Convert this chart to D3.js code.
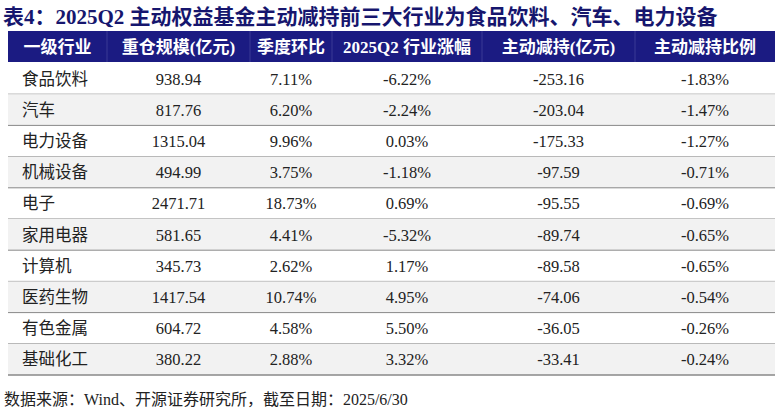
<!DOCTYPE html><html><head><meta charset="utf-8">
<script src="https://cdn.jsdelivr.net/npm/d3@7"></script>
<style>body{margin:0;background:#fff}</style></head><body>
<svg id="c" width="779" height="415"></svg>
<script>
const headers=["一级行业","重仓规模(亿元)","季度环比","2025Q2 行业涨幅","主动减持(亿元)","主动减持比例"];
const industries=["食品饮料","汽车","电力设备","机械设备","电子","家用电器","计算机","医药生物","有色金属","基础化工"];
const scale=["938.94","817.76","1315.04","494.99","2471.71","581.65","345.73","1417.54","604.72","380.22"];
const qoq=["7.11%","6.20%","9.96%","3.75%","18.73%","4.41%","2.62%","10.74%","4.58%","2.88%"];
const rise=["-6.22%","-2.24%","0.03%","-1.18%","0.69%","-5.32%","1.17%","4.95%","5.50%","3.32%"];
const reduce=["-253.16","-203.04","-175.33","-97.59","-95.55","-89.74","-89.58","-74.06","-36.05","-33.41"];
const ratio=["-1.83%","-1.47%","-1.27%","-0.71%","-0.69%","-0.65%","-0.65%","-0.54%","-0.26%","-0.24%"];
const cols=[industries,scale,qoq,rise,reduce,ratio];
const font='"Liberation Serif","Times New Roman","Noto Sans CJK SC",serif';
const svg=d3.select("#c");
const edges=[8,107,250,332,482,635,775];
const x=d3.scaleOrdinal().domain(d3.range(6)).range(d3.range(6).map(i=>(edges[i]+edges[i+1])/2));
const y=d3.scaleBand().domain(d3.range(10)).range([63,375]);
svg.append("text").attr("x",3).attr("y",24).attr("font-family",font).attr("font-weight","bold").attr("font-size",21).attr("fill","#16166e").text("表4：2025Q2 主动权益基金主动减持前三大行业为食品饮料、汽车、电力设备");
svg.append("rect").attr("x",8).attr("y",31).attr("width",767).attr("height",31).attr("fill","#1b1b82");
headers.forEach((h,i)=>svg.append("text").attr("x",x(i)).attr("y",53).attr("text-anchor","middle").attr("font-family",font).attr("font-weight","bold").attr("font-size",17).attr("fill","#fff").text(h));
edges.slice(1,-1).forEach(e=>svg.append("line").attr("x1",e).attr("x2",e).attr("y1",31).attr("y2",62).attr("stroke","#3a3a95").attr("stroke-width",1));
industries.forEach((d,r)=>{
  if(r%2==1) svg.append("rect").attr("x",8).attr("y",y(r)).attr("width",767).attr("height",y.bandwidth()).attr("fill","#f2f2f2");
  svg.append("line").attr("x1",8).attr("x2",775).attr("y1",y(r)+y.bandwidth()).attr("y2",y(r)+y.bandwidth()).attr("stroke","#888").attr("stroke-width",r==9?1.5:1);
  cols.forEach((c,i)=>svg.append("text").attr("x",i==0?22:x(i)).attr("y",y(r)+y.bandwidth()/2+6).attr("text-anchor",i==0?"start":"middle").attr("font-family",font).attr("font-size",16.5).attr("fill","#222").text(c[r]));
});
svg.append("text").attr("x",4).attr("y",405).attr("font-family",font).attr("font-size",16).attr("fill","#222").text("数据来源：Wind、开源证券研究所，截至日期：2025/6/30");
</script></body></html>
